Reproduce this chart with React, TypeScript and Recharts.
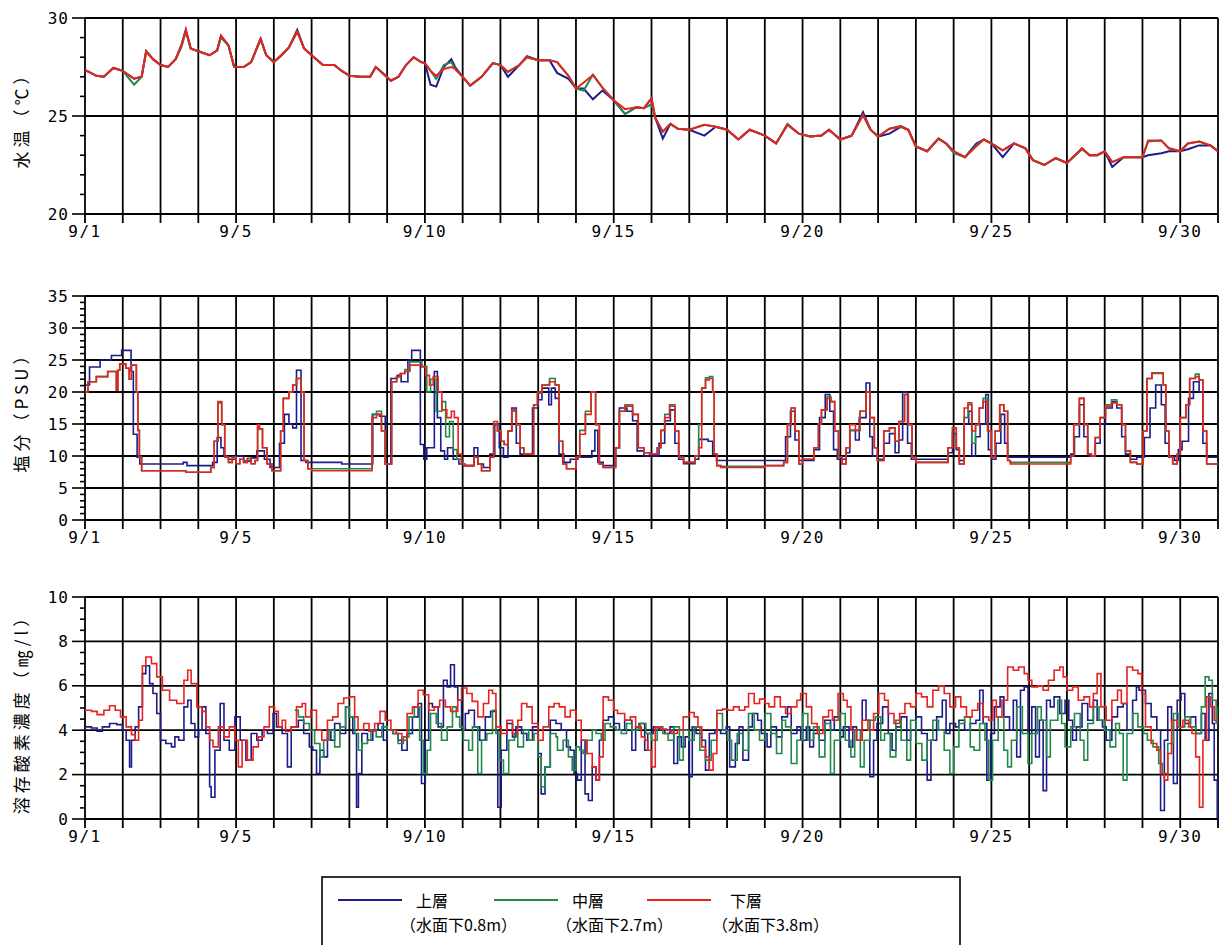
import React from 'react';
import { LineChart, Line, XAxis, YAxis, CartesianGrid } from 'recharts';

type P = [number, number][];

// ---------- axis definitions ----------
const dayTicks = [0,1,2,3,4,5,6,7,8,9,10,11,12,13,14,15,16,17,18,19,20,21,22,23,24,25,26,27,28,29,30];
const xLabelDays = [0, 4, 9, 14, 19, 24, 29];
const xLabelText = ['9/1', '9/5', '9/10', '9/15', '9/20', '9/25', '9/30'];

const tempTicks = [20,21,22,23,24,25,26,27,28,29,30];
const tempMajor = [20, 25, 30];
const salTicks = [0,1,2,3,4,5,6,7,8,9,10,11,12,13,14,15,16,17,18,19,20,21,22,23,24,25,26,27,28,29,30,31,32,33,34,35];
const salMajor = [0, 5, 10, 15, 20, 25, 30, 35];
const doTicks = [0,0.5,1,1.5,2,2.5,3,3.5,4,4.5,5,5.5,6,6.5,7,7.5,8,8.5,9,9.5,10];
const doMajor = [0, 2, 4, 6, 8, 10];

const seriesNames = ['上層', '中層', '下層'];
const seriesDepths = ['（水面下0.8m）', '（水面下2.7m）', '（水面下3.8m）'];
const seriesColors = ['#1c1c8a', '#23894a', '#e8231f'];

// ---------- water temperature (day, °C) ----------
const tempLower: P = [[0,27.35],[0.3,27.05],[0.5,27.0],[0.75,27.45],[1.0,27.3],[1.3,26.9],[1.5,27.0],[1.62,28.3],[1.8,27.9],[2.0,27.6],[2.2,27.5],[2.4,27.9],[2.55,28.6],[2.67,29.4],[2.8,28.45],[3.0,28.3],[3.3,28.1],[3.5,28.35],[3.6,29.1],[3.8,28.6],[3.95,27.5],[4.2,27.5],[4.4,27.75],[4.65,28.95],[4.8,28.1],[5.0,27.75],[5.2,28.1],[5.4,28.5],[5.62,29.3],[5.8,28.45],[6.0,28.1],[6.3,27.6],[6.6,27.6],[6.8,27.3],[7.0,27.05],[7.3,27.0],[7.55,27.0],[7.7,27.5],[7.9,27.15],[8.1,26.8],[8.3,27.0],[8.5,27.6],[8.7,28.0],[8.9,27.75],[9.0,27.7],[9.15,27.3],[9.3,27.05],[9.5,27.4],[9.7,27.5],[9.8,27.4],[10.0,27.0],[10.2,26.55],[10.5,27.0],[10.8,27.7],[11.0,27.6],[11.2,27.25],[11.5,27.6],[11.7,28.0],[12.0,27.85],[12.3,27.85],[12.5,27.75],[12.8,27.05],[13.0,26.4],[13.2,26.7],[13.45,27.1],[13.7,26.45],[14.0,25.8],[14.3,25.35],[14.6,25.45],[14.8,25.4],[15.0,25.9],[15.1,24.9],[15.3,24.2],[15.5,24.6],[15.7,24.35],[16.0,24.3],[16.4,24.55],[16.7,24.45],[17.0,24.3],[17.3,23.8],[17.6,24.3],[18.0,24.0],[18.3,23.6],[18.6,24.55],[18.9,24.1],[19.2,23.95],[19.5,24.0],[19.7,24.3],[20.0,23.8],[20.3,24.0],[20.6,25.05],[20.8,24.3],[21.0,23.95],[21.3,24.35],[21.6,24.45],[21.8,24.3],[22.0,23.45],[22.3,23.2],[22.6,23.85],[22.8,23.6],[23.0,23.2],[23.3,22.9],[23.6,23.45],[23.8,23.8],[24.0,23.6],[24.3,23.25],[24.6,23.6],[24.9,23.35],[25.1,22.75],[25.4,22.5],[25.7,22.85],[26.0,22.6],[26.4,23.35],[26.6,23.0],[26.8,23.0],[27.0,23.2],[27.2,22.65],[27.5,22.9],[27.8,22.9],[28.0,22.9],[28.15,23.75],[28.5,23.75],[28.7,23.35],[29.0,23.2],[29.2,23.6],[29.5,23.7],[29.8,23.5],[30,23.2]];
const tempUpper: P = [[0,27.35],[0.3,27.05],[0.5,27.0],[0.75,27.45],[1.0,27.3],[1.3,26.9],[1.5,27.0],[1.62,28.3],[1.8,27.9],[2.0,27.6],[2.2,27.5],[2.4,27.9],[2.55,28.6],[2.67,29.4],[2.8,28.45],[3.0,28.3],[3.3,28.1],[3.5,28.35],[3.6,29.1],[3.8,28.6],[3.95,27.5],[4.2,27.5],[4.4,27.75],[4.65,28.95],[4.8,28.1],[5.0,27.75],[5.2,28.1],[5.4,28.5],[5.62,29.4],[5.8,28.45],[6.0,28.1],[6.3,27.6],[6.6,27.6],[6.8,27.3],[7.0,27.05],[7.3,27.0],[7.55,27.0],[7.7,27.5],[7.9,27.15],[8.1,26.8],[8.3,27.0],[8.5,27.6],[8.7,28.0],[8.9,27.75],[9.0,27.7],[9.15,26.6],[9.3,26.5],[9.5,27.5],[9.7,27.9],[9.8,27.5],[10.0,27.0],[10.2,26.55],[10.5,27.0],[10.8,27.7],[11.0,27.6],[11.2,27.0],[11.5,27.6],[11.7,28.05],[12.0,27.85],[12.3,27.85],[12.5,27.2],[12.8,26.9],[13.0,26.4],[13.2,26.4],[13.45,25.85],[13.7,26.3],[14.0,25.8],[14.3,25.1],[14.6,25.45],[14.8,25.4],[15.0,25.9],[15.1,24.9],[15.3,23.85],[15.5,24.6],[15.7,24.35],[16.0,24.3],[16.4,24.0],[16.7,24.45],[17.0,24.3],[17.3,23.8],[17.6,24.3],[18.0,24.0],[18.3,23.6],[18.6,24.55],[18.9,24.1],[19.2,23.95],[19.5,24.0],[19.7,24.3],[20.0,23.8],[20.3,24.0],[20.6,25.2],[20.8,24.3],[21.0,23.95],[21.3,24.1],[21.6,24.45],[21.8,24.3],[22.0,23.45],[22.3,23.2],[22.6,23.85],[22.8,23.6],[23.0,23.2],[23.3,22.9],[23.6,23.6],[23.8,23.8],[24.0,23.6],[24.3,22.9],[24.6,23.6],[24.9,23.35],[25.1,22.75],[25.4,22.5],[25.7,22.85],[26.0,22.6],[26.4,23.35],[26.6,23.0],[26.8,23.0],[27.0,23.2],[27.2,22.4],[27.5,22.9],[27.8,22.9],[28.0,22.9],[28.15,23.0],[28.5,23.1],[28.7,23.2],[29.0,23.2],[29.2,23.3],[29.5,23.5],[29.8,23.5],[30,23.2]];
const tempMiddle: P = [[0,27.35],[0.3,27.05],[0.5,27.0],[0.75,27.45],[1.0,27.3],[1.3,26.6],[1.5,27.0],[1.62,28.3],[1.8,27.9],[2.0,27.6],[2.2,27.5],[2.4,27.9],[2.55,28.5],[2.67,29.3],[2.8,28.45],[3.0,28.3],[3.3,28.1],[3.5,28.35],[3.6,29.0],[3.8,28.6],[3.95,27.5],[4.2,27.5],[4.4,27.75],[4.65,28.9],[4.8,28.1],[5.0,27.75],[5.2,28.1],[5.4,28.5],[5.62,29.3],[5.8,28.45],[6.0,28.1],[6.3,27.6],[6.6,27.6],[6.8,27.3],[7.0,27.05],[7.3,27.0],[7.55,27.0],[7.7,27.5],[7.9,27.15],[8.1,26.8],[8.3,27.0],[8.5,27.6],[8.7,28.0],[8.9,27.75],[9.0,27.7],[9.15,27.3],[9.3,26.9],[9.5,27.6],[9.7,27.75],[9.8,27.4],[10.0,27.0],[10.2,26.55],[10.5,27.0],[10.8,27.7],[11.0,27.6],[11.2,27.25],[11.5,27.6],[11.7,28.0],[12.0,27.85],[12.3,27.85],[12.5,27.75],[12.8,27.05],[13.0,26.4],[13.2,26.3],[13.45,27.1],[13.7,26.45],[14.0,25.8],[14.3,25.1],[14.6,25.45],[14.8,25.4],[15.0,25.6],[15.1,24.9],[15.3,24.2],[15.5,24.6],[15.7,24.35],[16.0,24.3],[16.4,24.55],[16.7,24.45],[17.0,24.3],[17.3,23.8],[17.6,24.3],[18.0,24.0],[18.3,23.6],[18.6,24.6],[18.9,24.1],[19.2,23.95],[19.5,24.0],[19.7,24.3],[20.0,23.8],[20.3,24.0],[20.6,25.05],[20.8,24.3],[21.0,23.95],[21.3,24.35],[21.6,24.5],[21.8,24.3],[22.0,23.45],[22.3,23.2],[22.6,23.85],[22.8,23.6],[23.0,23.1],[23.3,22.9],[23.6,23.5],[23.8,23.8],[24.0,23.6],[24.3,23.25],[24.6,23.6],[24.9,23.35],[25.1,22.75],[25.4,22.5],[25.7,22.85],[26.0,22.6],[26.4,23.3],[26.6,23.0],[26.8,23.0],[27.0,23.2],[27.2,22.65],[27.5,22.9],[27.8,22.9],[28.0,22.9],[28.15,23.7],[28.5,23.75],[28.7,23.35],[29.0,23.2],[29.2,23.6],[29.5,23.7],[29.8,23.5],[30,23.2]];

// ---------- salinity (day, PSU) ----------
const salLower: P = [[0,20.0],[0.08,21.6],[0.3,22.4],[0.6,23.2],[0.83,20.3],[0.87,23.4],[0.92,24.4],[1.08,23.7],[1.17,22.0],[1.23,24.2],[1.36,20.0],[1.4,14.0],[1.44,9.8],[1.5,7.7],[2.67,7.45],[3.33,8.2],[3.42,12.3],[3.52,18.5],[3.62,14.9],[3.7,9.8],[3.8,9.0],[3.9,9.8],[4.0,8.8],[4.1,9.5],[4.2,9.0],[4.3,9.6],[4.4,8.8],[4.5,9.3],[4.57,14.9],[4.62,14.2],[4.7,11.3],[4.82,8.75],[4.95,7.7],[5.18,13.9],[5.25,19.0],[5.4,20.0],[5.5,21.1],[5.6,22.1],[5.72,20.0],[5.8,9.3],[5.9,8.0],[6.0,7.7],[7.6,16.0],[7.72,16.5],[7.85,13.9],[7.95,8.75],[8.12,21.6],[8.25,22.4],[8.35,22.9],[8.47,23.2],[8.6,24.2],[8.92,23.9],[9.02,22.6],[9.12,21.1],[9.22,22.4],[9.35,20.0],[9.45,17.2],[9.58,16.0],[9.7,17.0],[9.78,16.0],[9.88,10.3],[9.97,8.75],[10.05,8.5],[10.3,9.8],[10.4,8.75],[10.5,7.7],[10.72,9.8],[10.82,15.4],[10.92,13.9],[11.02,12.3],[11.1,11.8],[11.2,13.9],[11.3,17.2],[11.42,14.9],[11.52,11.3],[11.62,10.3],[11.88,18.0],[11.98,19.8],[12.1,21.1],[12.3,21.6],[12.45,21.1],[12.55,12.3],[12.65,8.75],[12.75,8.0],[13.0,9.8],[13.1,13.4],[13.25,16.5],[13.4,20.0],[13.52,14.9],[13.62,8.75],[13.72,8.2],[14.05,11.3],[14.15,17.0],[14.3,17.8],[14.5,16.5],[14.65,11.3],[14.8,10.5],[14.95,10.3],[15.15,11.3],[15.25,14.0],[15.35,16.0],[15.48,17.8],[15.62,13.9],[15.72,9.8],[15.85,9.0],[16.15,10.0],[16.25,11.3],[16.33,20.6],[16.43,21.9],[16.53,22.1],[16.62,20.0],[16.66,10.3],[16.73,8.5],[16.83,8.2],[18.0,8.5],[18.5,9.0],[18.6,14.9],[18.7,17.5],[18.8,13.9],[18.9,8.75],[19.0,9.5],[19.3,11.3],[19.42,15.0],[19.5,17.2],[19.65,19.0],[19.75,18.5],[19.85,13.9],[19.95,9.8],[20.05,8.75],[20.15,11.3],[20.25,14.9],[20.4,14.0],[20.52,17.0],[20.68,20.0],[20.78,16.0],[20.9,11.3],[20.98,9.3],[21.15,13.9],[21.3,14.4],[21.45,12.3],[21.55,15.4],[21.7,19.6],[21.8,14.9],[21.9,9.8],[22.0,9.0],[22.85,11.3],[22.97,14.4],[23.07,11.3],[23.15,8.75],[23.28,17.5],[23.38,18.3],[23.48,13.9],[23.58,14.9],[23.68,17.5],[23.78,18.5],[23.9,13.9],[24.0,9.8],[24.1,13.9],[24.22,18.0],[24.33,17.0],[24.43,9.3],[24.5,8.75],[26.1,10.0],[26.18,14.9],[26.33,19.0],[26.45,14.9],[26.55,10.3],[26.65,10.0],[26.75,12.9],[26.88,16.0],[27.02,17.8],[27.18,18.3],[27.32,18.0],[27.45,14.9],[27.55,10.8],[27.68,9.0],[27.85,8.75],[28.02,13.9],[28.12,22.1],[28.25,22.9],[28.55,21.1],[28.62,13.9],[28.7,9.8],[28.8,8.75],[28.92,10.3],[29.0,16.0],[29.15,18.0],[29.25,22.1],[29.4,22.4],[29.5,21.9],[29.6,13.9],[29.7,8.75],[30,8.75]];
const salUpper: P = [[0,21.1],[0.12,23.9],[0.4,25.0],[0.7,25.7],[0.97,26.5],[1.22,23.2],[1.28,13.4],[1.38,9.8],[1.45,8.75],[2.6,9.0],[2.7,8.5],[3.38,9.0],[3.5,12.9],[3.6,11.3],[3.68,10.0],[3.8,9.5],[4.0,10.0],[4.2,9.2],[4.4,9.7],[4.55,10.8],[4.75,9.5],[4.9,8.2],[5.15,12.0],[5.28,16.5],[5.4,15.0],[5.5,14.4],[5.6,23.4],[5.72,9.3],[5.85,9.0],[6.8,8.75],[7.62,16.5],[7.8,16.2],[7.95,8.75],[8.1,22.1],[8.27,22.6],[8.37,21.6],[8.55,25.0],[8.65,26.5],[8.88,11.8],[8.97,9.5],[9.05,11.3],[9.25,23.2],[9.33,16.0],[9.42,10.8],[9.52,9.5],[9.6,11.3],[9.75,9.5],[9.9,8.75],[10.05,8.5],[10.3,11.3],[10.4,8.75],[10.55,8.2],[10.72,10.3],[10.85,14.9],[10.97,11.3],[11.08,9.8],[11.2,13.9],[11.3,17.5],[11.42,12.0],[11.52,10.3],[11.85,17.5],[12.0,18.8],[12.1,20.6],[12.28,18.0],[12.35,20.6],[12.45,19.0],[12.55,10.3],[12.68,9.0],[12.85,9.5],[13.05,9.8],[13.42,10.8],[13.5,14.0],[13.58,9.0],[13.72,8.5],[14.05,11.3],[14.15,17.5],[14.35,17.0],[14.5,15.5],[14.62,10.8],[14.8,10.0],[15.2,12.0],[15.35,15.5],[15.5,17.2],[15.62,12.0],[15.72,9.5],[15.85,8.8],[16.15,9.5],[16.25,12.6],[16.5,12.3],[16.62,10.3],[16.72,9.3],[18.55,13.0],[18.68,17.0],[18.8,12.5],[18.9,9.3],[19.3,11.0],[19.45,16.0],[19.6,19.6],[19.72,17.0],[19.82,11.0],[19.92,9.5],[20.15,10.5],[20.25,14.0],[20.4,12.5],[20.5,16.0],[20.68,21.4],[20.78,13.0],[20.85,10.0],[20.98,9.5],[21.15,12.0],[21.3,13.5],[21.45,10.5],[21.55,12.5],[21.65,20.0],[21.78,12.0],[21.88,9.5],[22.85,10.5],[22.97,13.5],[23.07,11.0],[23.15,9.3],[23.28,15.0],[23.4,17.0],[23.48,10.0],[23.58,13.0],[23.7,15.0],[23.85,19.6],[23.92,11.0],[24.0,9.5],[24.12,12.0],[24.25,16.5],[24.35,12.0],[24.43,9.8],[26.1,10.3],[26.2,13.0],[26.33,18.0],[26.45,13.0],[26.55,10.0],[26.75,12.0],[26.88,15.0],[27.02,17.5],[27.2,18.5],[27.32,17.5],[27.45,13.0],[27.55,10.3],[27.68,9.5],[27.85,9.8],[28.05,12.9],[28.2,17.5],[28.35,21.1],[28.5,18.0],[28.6,12.0],[28.7,10.0],[28.85,9.3],[28.95,11.0],[29.05,12.3],[29.22,19.0],[29.35,21.6],[29.5,20.0],[29.6,12.0],[29.7,9.8],[30,9.8]];
const salMiddle: P = [[0,20.0],[0.08,21.6],[0.3,22.4],[0.6,23.2],[0.83,20.3],[0.87,23.4],[0.92,24.4],[1.08,23.7],[1.17,22.0],[1.23,24.2],[1.36,20.0],[1.4,14.0],[1.44,9.8],[1.5,7.7],[2.67,7.45],[3.33,8.2],[3.42,12.3],[3.52,18.3],[3.62,14.9],[3.7,9.8],[3.8,9.0],[3.9,9.8],[4.0,8.8],[4.1,9.5],[4.2,9.0],[4.3,9.6],[4.4,8.8],[4.5,9.3],[4.57,14.5],[4.62,14.2],[4.7,11.3],[4.82,8.75],[4.95,7.7],[5.18,13.9],[5.25,19.0],[5.4,20.0],[5.5,21.1],[5.6,22.1],[5.72,20.0],[5.8,9.3],[5.9,8.0],[6.0,8.0],[7.6,16.5],[7.72,17.0],[7.85,13.9],[7.95,8.75],[8.12,21.6],[8.25,22.4],[8.35,22.9],[8.47,23.5],[8.6,24.7],[8.92,24.0],[9.05,20.0],[9.15,22.0],[9.3,17.0],[9.45,18.5],[9.55,13.0],[9.65,15.4],[9.75,11.0],[9.85,9.5],[9.97,8.75],[10.05,8.5],[10.3,9.8],[10.4,8.75],[10.5,7.7],[10.72,9.8],[10.82,15.0],[10.92,13.9],[11.02,12.3],[11.1,11.8],[11.2,13.9],[11.3,17.0],[11.42,14.9],[11.52,11.3],[11.62,10.3],[11.88,18.0],[11.98,20.0],[12.1,21.1],[12.3,22.1],[12.45,21.1],[12.55,12.3],[12.65,8.75],[12.75,8.0],[13.0,9.8],[13.1,14.0],[13.25,17.0],[13.4,20.0],[13.52,14.9],[13.62,8.75],[13.72,8.2],[14.05,11.3],[14.15,17.0],[14.3,18.0],[14.5,16.5],[14.65,11.3],[14.8,10.5],[14.95,10.3],[15.15,11.3],[15.25,14.0],[15.35,16.5],[15.48,18.0],[15.62,13.9],[15.72,9.8],[15.85,9.0],[16.15,10.0],[16.25,14.9],[16.33,20.6],[16.43,22.2],[16.53,22.4],[16.62,20.0],[16.66,10.3],[16.73,8.5],[16.83,8.4],[18.0,8.5],[18.5,9.0],[18.6,14.9],[18.7,17.5],[18.8,13.9],[18.9,8.75],[19.0,9.5],[19.3,11.3],[19.42,15.0],[19.5,17.2],[19.65,19.3],[19.75,18.5],[19.85,13.9],[19.95,9.8],[20.05,8.75],[20.15,11.3],[20.25,14.0],[20.4,14.0],[20.52,17.0],[20.68,20.0],[20.78,16.0],[20.9,11.3],[20.98,9.3],[21.15,13.9],[21.3,14.4],[21.45,12.3],[21.55,15.4],[21.7,19.6],[21.8,14.9],[21.9,9.8],[22.0,9.0],[22.85,11.3],[22.97,14.4],[23.07,11.3],[23.15,8.75],[23.28,16.0],[23.38,18.0],[23.48,12.0],[23.58,14.9],[23.68,17.5],[23.78,19.0],[23.9,13.9],[24.0,9.8],[24.1,13.9],[24.22,18.0],[24.33,17.0],[24.43,9.3],[24.5,9.0],[26.1,10.0],[26.18,14.9],[26.33,19.0],[26.45,14.9],[26.55,10.3],[26.65,10.0],[26.75,12.9],[26.88,16.0],[27.02,18.0],[27.18,18.8],[27.32,18.0],[27.45,14.9],[27.55,10.8],[27.68,9.0],[27.85,8.75],[28.02,13.9],[28.12,22.1],[28.25,23.0],[28.55,21.1],[28.62,13.9],[28.7,9.8],[28.8,8.75],[28.92,10.3],[29.0,16.0],[29.15,18.0],[29.25,22.1],[29.4,22.8],[29.5,21.9],[29.6,13.9],[29.7,8.75],[30,8.75]];

// ---------- dissolved oxygen (day, mg/l) ----------
const doLower: P = [[0,4.9],[0.17,4.85],[0.32,4.7],[0.5,4.9],[0.65,5.1],[0.8,4.9],[0.94,4.6],[1.09,4.15],[1.23,3.8],[1.33,3.55],[1.42,4.45],[1.52,6.9],[1.61,7.3],[1.76,7.0],[1.9,6.4],[2.05,5.8],[2.24,5.35],[2.43,5.2],[2.62,6.25],[2.72,6.7],[2.81,6.1],[2.96,5.05],[3.1,4.85],[3.2,4.15],[3.3,3.55],[3.39,3.25],[3.53,4.15],[3.68,3.7],[3.82,4.15],[3.97,3.55],[4.06,2.35],[4.16,3.55],[4.3,2.65],[4.45,3.25],[4.59,3.7],[4.74,4.15],[4.88,5.05],[5.02,4.85],[5.12,4.15],[5.22,4.45],[5.31,3.95],[5.46,4.15],[5.6,5.05],[5.75,5.2],[5.84,4.6],[5.98,4.9],[6.13,4.0],[6.27,3.55],[6.42,4.45],[6.56,4.6],[6.7,5.2],[6.85,5.45],[6.99,5.5],[7.14,4.6],[7.23,4.0],[7.38,4.3],[7.52,3.95],[7.67,4.3],[7.81,4.85],[7.95,4.45],[8.1,4.0],[8.24,3.85],[8.39,3.55],[8.53,4.75],[8.67,5.05],[8.82,5.8],[8.96,5.6],[9.1,4.9],[9.25,5.05],[9.39,5.35],[9.54,5.05],[9.68,4.85],[9.87,5.35],[9.97,5.9],[10.11,5.65],[10.25,5.3],[10.4,4.6],[10.55,5.2],[10.69,5.8],[10.79,5.65],[10.88,4.15],[11.02,3.85],[11.17,4.45],[11.32,3.85],[11.46,4.45],[11.56,5.2],[11.7,5.05],[11.84,4.3],[11.99,3.55],[12.13,4.15],[12.28,5.05],[12.42,5.2],[12.56,5.05],[12.71,4.6],[12.85,4.9],[13.0,4.45],[13.14,3.55],[13.29,2.95],[13.43,2.35],[13.53,1.75],[13.62,2.8],[13.72,5.5],[13.86,5.35],[14.0,4.9],[14.1,4.75],[14.29,4.45],[14.44,4.6],[14.58,4.15],[14.73,3.7],[14.82,3.55],[14.9,3.1],[15.0,2.35],[15.1,4.15],[15.25,4.05],[15.4,4.0],[15.54,3.85],[15.69,4.0],[15.84,4.6],[15.99,4.8],[16.13,4.6],[16.23,4.15],[16.33,3.25],[16.43,2.8],[16.53,2.2],[16.63,2.95],[16.73,4.9],[16.88,4.95],[17.02,4.9],[17.17,5.05],[17.32,4.9],[17.47,5.05],[17.57,5.65],[17.72,5.2],[17.86,5.4],[18.01,5.2],[18.11,5.05],[18.26,5.5],[18.41,5.05],[18.55,4.75],[18.7,5.05],[18.85,5.35],[18.95,5.65],[19.1,5.05],[19.24,4.3],[19.39,3.85],[19.54,4.6],[19.69,4.9],[19.79,4.45],[19.94,5.65],[20.08,5.35],[20.18,5.05],[20.28,4.0],[20.43,3.55],[20.58,4.45],[20.73,4.0],[20.88,4.75],[21.02,5.65],[21.17,5.35],[21.27,4.75],[21.42,4.3],[21.57,4.75],[21.71,5.2],[21.86,5.05],[22.0,5.65],[22.15,5.5],[22.3,5.05],[22.45,5.8],[22.6,6.0],[22.75,5.65],[22.9,5.05],[23.05,5.5],[23.19,5.05],[23.34,4.6],[23.49,4.9],[23.64,5.2],[23.78,4.6],[23.93,4.45],[24.03,5.35],[24.13,4.6],[24.28,5.35],[24.43,6.85],[24.58,6.7],[24.72,6.85],[24.87,6.55],[24.97,6.25],[25.07,5.95],[25.22,6.0],[25.37,5.8],[25.51,6.25],[25.66,6.7],[25.81,6.85],[25.9,6.4],[26.0,5.8],[26.15,5.95],[26.3,5.35],[26.45,5.5],[26.6,5.05],[26.7,5.65],[26.8,6.55],[26.9,5.05],[27.04,4.45],[27.19,5.35],[27.34,5.8],[27.44,5.2],[27.59,6.85],[27.74,6.7],[27.88,6.55],[27.98,5.65],[28.08,4.15],[28.23,3.4],[28.38,3.1],[28.48,2.05],[28.58,1.75],[28.67,2.95],[28.77,4.45],[28.92,4.15],[29.07,4.45],[29.22,4.15],[29.31,3.85],[29.41,2.8],[29.51,0.53],[29.6,3.55],[29.7,5.5],[29.8,5.05],[29.9,4.45],[30,4.6]];
const doUpper: P = [[0,4.15],[0.17,4.1],[0.32,3.95],[0.46,4.15],[0.65,4.3],[0.84,4.25],[0.99,4.0],[1.09,3.55],[1.18,2.35],[1.23,3.55],[1.33,4.15],[1.42,5.05],[1.52,6.55],[1.61,6.9],[1.71,6.1],[1.8,5.65],[1.9,4.75],[2.0,3.55],[2.14,3.4],[2.29,3.25],[2.38,3.7],[2.48,3.55],[2.62,5.05],[2.72,5.35],[2.81,4.3],[2.91,3.7],[3.01,4.0],[3.1,5.05],[3.2,3.85],[3.3,1.45],[3.34,0.98],[3.44,3.1],[3.58,5.2],[3.68,3.55],[3.82,3.1],[3.97,4.6],[4.11,3.55],[4.26,2.65],[4.4,3.85],[4.55,3.55],[4.69,4.0],[4.83,3.85],[4.98,4.75],[5.07,4.15],[5.22,3.85],[5.36,2.35],[5.46,4.15],[5.65,4.45],[5.79,3.85],[5.94,3.25],[6.03,3.1],[6.13,2.05],[6.22,3.1],[6.32,2.8],[6.42,4.0],[6.51,3.55],[6.61,4.3],[6.75,3.85],[6.9,5.05],[6.99,4.6],[7.09,3.85],[7.19,0.53],[7.24,2.05],[7.33,3.85],[7.48,3.55],[7.62,4.0],[7.76,4.3],[7.9,3.55],[8.0,4.0],[8.15,3.85],[8.29,3.55],[8.39,3.1],[8.53,3.85],[8.67,4.6],[8.82,5.2],[8.91,1.6],[9.01,3.55],[9.1,5.2],[9.2,5.05],[9.35,4.15],[9.49,6.25],[9.59,5.95],[9.68,6.95],[9.78,5.95],[9.87,5.35],[9.97,4.0],[10.07,4.75],[10.16,4.9],[10.31,4.15],[10.45,3.55],[10.6,4.6],[10.74,4.85],[10.88,4.0],[10.93,0.53],[11.02,3.1],[11.17,4.3],[11.32,3.7],[11.41,4.15],[11.56,3.85],[11.7,3.55],[11.85,4.15],[11.99,2.95],[12.08,1.13],[12.18,2.35],[12.32,4.45],[12.47,4.3],[12.61,4.0],[12.75,3.25],[12.85,3.1],[12.95,2.05],[13.04,1.75],[13.14,3.55],[13.24,1.13],[13.33,0.83],[13.43,2.35],[13.53,1.75],[13.62,3.55],[13.72,4.45],[13.86,4.6],[14.0,4.3],[14.15,4.0],[14.29,4.45],[14.48,3.1],[14.58,4.15],[14.67,4.3],[14.82,3.1],[14.9,3.85],[15.05,4.15],[15.2,4.0],[15.35,3.85],[15.49,4.15],[15.59,2.5],[15.69,3.7],[15.79,3.25],[15.89,3.7],[15.99,1.9],[16.08,4.15],[16.18,3.85],[16.33,3.55],[16.43,2.2],[16.53,3.85],[16.68,4.0],[16.83,3.85],[16.98,4.15],[17.07,2.35],[17.22,3.4],[17.32,4.15],[17.42,2.65],[17.57,4.15],[17.67,4.75],[17.81,4.45],[17.91,3.85],[18.06,3.25],[18.16,4.15],[18.31,3.7],[18.45,4.6],[18.6,5.05],[18.7,3.85],[18.85,4.15],[18.95,3.55],[19.1,4.15],[19.19,3.25],[19.29,3.85],[19.44,3.55],[19.59,4.45],[19.74,4.0],[19.84,4.6],[19.99,3.7],[20.08,4.15],[20.23,3.25],[20.33,4.15],[20.43,3.55],[20.58,5.35],[20.68,4.45],[20.78,1.9],[20.88,3.55],[20.97,4.3],[21.12,5.05],[21.27,3.85],[21.37,3.1],[21.47,4.15],[21.61,4.6],[21.76,3.55],[21.86,4.0],[22.0,4.6],[22.15,3.85],[22.3,1.75],[22.4,3.55],[22.55,4.6],[22.7,5.35],[22.8,3.85],[22.9,4.3],[23.05,4.15],[23.14,4.45],[23.29,4.0],[23.44,4.3],[23.59,4.45],[23.69,5.8],[23.78,4.3],[23.88,1.75],[23.98,3.85],[24.08,5.05],[24.23,5.5],[24.33,4.6],[24.48,4.0],[24.58,5.35],[24.67,2.8],[24.77,5.8],[24.87,5.95],[24.97,3.85],[25.07,5.05],[25.17,2.8],[25.27,4.45],[25.37,1.28],[25.46,5.35],[25.56,5.05],[25.66,5.5],[25.81,4.75],[25.95,5.35],[26.05,4.45],[26.15,3.55],[26.25,4.15],[26.4,5.2],[26.55,4.45],[26.7,5.35],[26.8,4.45],[26.94,4.15],[27.04,3.55],[27.19,4.6],[27.34,5.05],[27.49,5.2],[27.59,4.0],[27.74,5.35],[27.84,5.95],[27.91,5.8],[28.08,5.2],[28.23,4.6],[28.38,4.0],[28.48,0.38],[28.58,3.55],[28.67,5.05],[28.77,4.45],[28.82,1.6],[28.92,5.35],[29.02,5.65],[29.12,4.3],[29.27,4.6],[29.41,3.85],[29.56,4.75],[29.66,3.55],[29.76,5.65],[29.85,4.3],[29.9,1.75],[29.98,0.05],[30,0.05]];
const doMiddle: P = [[5.55,4.9],[5.65,4.6],[5.79,4.3],[5.94,4.0],[6.08,3.4],[6.22,2.8],[6.32,3.55],[6.46,4.0],[6.61,3.25],[6.75,4.15],[6.9,5.05],[6.99,4.6],[7.14,3.85],[7.24,3.1],[7.33,3.4],[7.48,3.55],[7.57,4.0],[7.71,3.7],[7.86,4.15],[8.0,4.0],[8.15,3.85],[8.29,3.4],[8.43,3.7],[8.58,4.6],[8.72,5.05],[8.86,3.55],[8.96,2.05],[9.06,3.1],[9.15,4.75],[9.3,4.3],[9.44,3.55],[9.59,4.15],[9.73,5.05],[9.83,4.6],[9.92,4.15],[10.02,3.55],[10.16,3.1],[10.26,4.15],[10.4,2.05],[10.5,3.55],[10.64,3.85],[10.79,4.9],[10.88,3.85],[10.98,2.65],[11.08,2.05],[11.22,3.55],[11.37,3.85],[11.46,3.25],[11.61,4.0],[11.75,3.55],[11.89,3.85],[11.99,2.8],[12.08,1.45],[12.18,2.35],[12.32,3.85],[12.47,3.7],[12.51,3.1],[12.66,3.55],[12.8,2.8],[12.9,2.2],[13.0,3.25],[13.1,3.1],[13.19,2.95],[13.29,3.55],[13.43,4.0],[13.53,3.85],[13.67,3.55],[13.77,4.3],[13.91,4.15],[14.06,4.0],[14.2,3.85],[14.34,4.3],[14.48,4.0],[14.63,4.05],[14.7,4.3],[14.85,3.85],[15.0,3.55],[15.15,4.15],[15.3,3.85],[15.44,3.55],[15.59,4.15],[15.74,2.65],[15.84,4.0],[15.99,3.55],[16.13,4.15],[16.28,3.1],[16.43,2.65],[16.58,3.55],[16.73,4.75],[16.88,4.0],[17.02,3.55],[17.12,2.65],[17.27,3.85],[17.42,3.1],[17.57,4.75],[17.72,4.0],[17.86,3.55],[18.01,4.75],[18.16,3.85],[18.31,2.95],[18.45,4.45],[18.55,4.15],[18.7,2.5],[18.85,3.55],[19.0,4.75],[19.14,3.55],[19.29,4.15],[19.44,2.8],[19.59,4.3],[19.74,2.05],[19.84,3.55],[19.99,4.75],[20.13,3.55],[20.28,2.8],[20.38,4.0],[20.53,2.35],[20.63,3.55],[20.78,4.45],[20.93,4.6],[21.07,3.55],[21.17,3.85],[21.32,2.8],[21.47,4.45],[21.61,3.55],[21.76,2.65],[21.86,4.45],[22.01,3.4],[22.16,2.65],[22.3,3.55],[22.45,4.45],[22.6,4.0],[22.75,3.1],[22.9,2.05],[23.0,3.25],[23.14,4.3],[23.29,4.6],[23.44,3.25],[23.54,3.1],[23.69,4.3],[23.83,3.55],[23.93,1.75],[24.03,3.55],[24.18,4.6],[24.33,3.1],[24.43,2.35],[24.53,3.55],[24.67,5.05],[24.82,3.85],[24.97,2.5],[25.07,3.85],[25.22,5.05],[25.32,4.45],[25.46,2.8],[25.56,4.45],[25.76,5.35],[25.86,4.3],[25.95,3.25],[26.1,4.15],[26.2,4.75],[26.35,3.55],[26.45,2.65],[26.55,4.3],[26.7,5.05],[26.85,4.45],[26.99,4.0],[27.14,3.25],[27.29,4.3],[27.39,3.85],[27.49,1.75],[27.59,3.85],[27.74,4.75],[27.88,4.15],[28.03,3.85],[28.13,3.55],[28.28,3.25],[28.43,2.5],[28.53,2.05],[28.67,3.4],[28.82,4.75],[28.97,4.15],[29.12,4.6],[29.27,4.15],[29.41,3.85],[29.56,5.05],[29.66,6.4],[29.76,6.25],[29.85,5.35],[29.95,4.3],[30,5.05]];

// ---------- rendering ----------
const FONT_NUM = '"DejaVu Sans Mono", "Liberation Mono", monospace';
const FONT_JP = '"Noto Sans CJK JP", "Noto Sans", sans-serif';

const toRows = (p: P) => p.map(([t, v]) => ({ t, v }));

function XTick(props: any) {
  const { x, y, payload } = props;
  const i = xLabelDays.indexOf(payload.value);
  return (
    <g>
      <line x1={x} y1={y} x2={x} y2={y + 9} stroke="#000" strokeWidth={1.8} />
      {i >= 0 && (
        <text x={x} y={y + 17} textAnchor="middle" dominantBaseline="central" fontFamily={FONT_NUM} fontSize={16} letterSpacing={1.5} fill="#000">
          {xLabelText[i]}
        </text>
      )}
    </g>
  );
}

function YTick(props: any) {
  const { x, y, payload, majors } = props;
  const v = payload.value;
  const isMajor = majors.indexOf(v) >= 0;
  const len = isMajor ? 13 : 5;
  return (
    <g>
      <line x1={x - len} y1={y} x2={x} y2={y} stroke="#000" strokeWidth={1.6} />
      {isMajor && (
        <text x={x - 16} y={y} textAnchor="end" dominantBaseline="central" fontFamily={FONT_NUM} fontSize={16} letterSpacing={1} fill="#000">
          {v}
        </text>
      )}
    </g>
  );
}

type PanelProps = {
  top: number; height: number; mTop: number; xH: number;
  domain: [number, number]; ticks: number[]; majors: number[];
  data: P[]; curve: 'linear' | 'stepAfter'; width: number;
};

function Panel({ top, height, mTop, xH, domain, ticks, majors, data, curve, width }: PanelProps) {
  return (
    <div style={{ position: 'absolute', left: 0, top }}>
      <LineChart width={1230} height={height} margin={{ top: mTop, right: 12, bottom: 0, left: 0 }}>
        <CartesianGrid horizontalValues={majors} verticalValues={dayTicks} stroke="#000" strokeWidth={1.8} strokeDasharray="" />
        <XAxis type="number" dataKey="t" domain={[0, 30]} ticks={dayTicks} interval={0} height={xH}
          tickSize={0} tickMargin={0} axisLine={false} tickLine={false} tick={<XTick />} allowDataOverflow />
        <YAxis type="number" domain={domain} ticks={ticks} interval={0} width={85}
          tickSize={0} tickMargin={0} axisLine={false} tickLine={false}
          tick={(p: any) => <YTick {...p} majors={majors} />} allowDataOverflow />
        {data.map((d, i) => (
          <Line key={i} data={toRows(d)} dataKey="v" type={curve} stroke={seriesColors[i]} strokeWidth={width}
            dot={false} activeDot={false} isAnimationActive={false} />
        ))}
      </LineChart>
    </div>
  );
}

export default function App() {
  const titles = [
    { text: '水温（℃）', y: 116 },
    { text: '塩分（PSU）', y: 408 },
    { text: '溶存酸素濃度（㎎/l）', y: 710 },
  ];
  const legendX = [338, 494, 647];
  const textX = [416, 572, 730];
  const depthX = [400, 556, 712];
  return (
    <div style={{ position: 'absolute', left: 0, top: 0, width: 1230, height: 945, background: '#fff', overflow: 'hidden' }}>
      <Panel top={0} height={250} mTop={18} xH={36} domain={[20, 30]} ticks={tempTicks} majors={tempMajor}
        data={[tempUpper, tempMiddle, tempLower]} curve="linear" width={2} />
      <Panel top={280} height={270} mTop={16} xH={30} domain={[0, 35]} ticks={salTicks} majors={salMajor}
        data={[salUpper, salMiddle, salLower]} curve="stepAfter" width={1.6} />
      <Panel top={580} height={270} mTop={17} xH={31} domain={[0, 10]} ticks={doTicks} majors={doMajor}
        data={[doUpper, doMiddle, doLower]} curve="stepAfter" width={1.6} />
      <svg width={1230} height={945} style={{ position: 'absolute', left: 0, top: 0, pointerEvents: 'none' }}>
        {titles.map((t, i) => (
          <text key={i} transform={`translate(20,${t.y}) rotate(-90)`} textAnchor="middle" dominantBaseline="central"
            fontFamily={FONT_JP} fontSize={17} letterSpacing={4} fill="#000">{t.text}</text>
        ))}
        <rect x={322} y={877} width={638} height={120} fill="none" stroke="#000" strokeWidth={1.6} />
        {seriesNames.map((n, i) => (
          <g key={n}>
            <line x1={legendX[i]} y1={900} x2={legendX[i] + 64} y2={900} stroke={seriesColors[i]} strokeWidth={2} />
            <text x={textX[i]} y={900} dominantBaseline="central" fontFamily={FONT_JP} fontSize={16} fill="#000">{n}</text>
            <text x={depthX[i]} y={924} dominantBaseline="central" fontFamily={FONT_JP} fontSize={16} fill="#000">{seriesDepths[i]}</text>
          </g>
        ))}
      </svg>
    </div>
  );
}
